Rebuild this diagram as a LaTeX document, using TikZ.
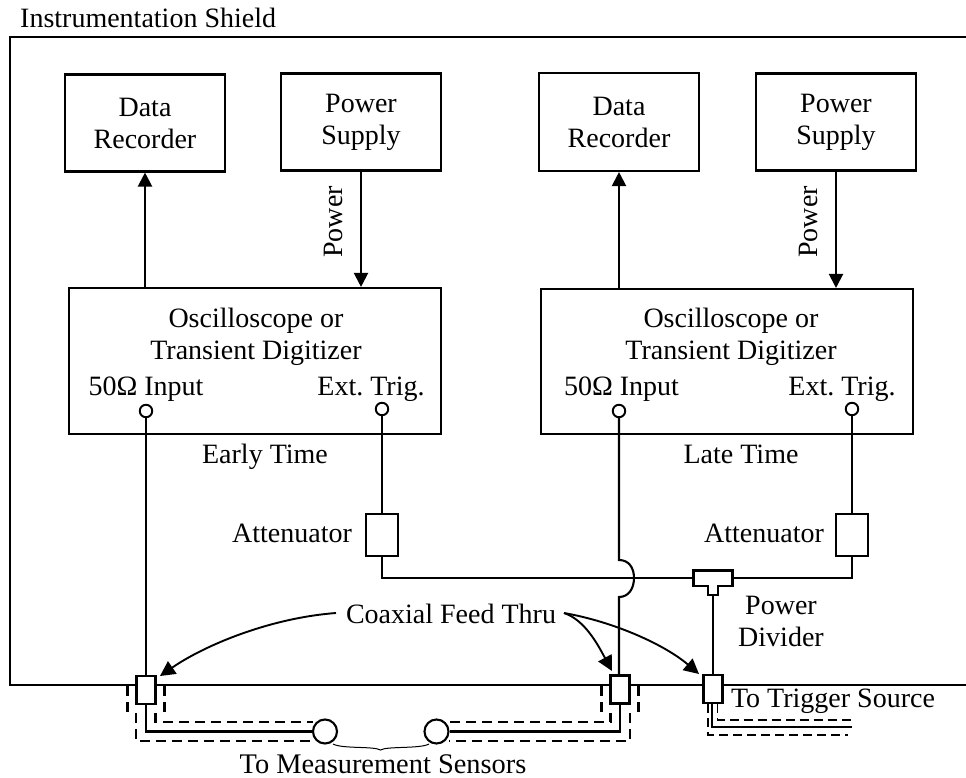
\documentclass[tikz,border=0pt]{standalone}
\usepackage{fontspec}
\setmainfont{Liberation Serif}
\usetikzlibrary{arrows.meta}
\tikzset{
 wire/.style={line width=2.1pt,line cap=butt,line join=miter},
 box/.style={draw,line width=2.1pt,fill=white,inner sep=0pt,align=center},
 port/.style={draw,line width=1.9pt,circle,fill=white,minimum size=12.5pt,inner sep=0pt},
 sensor/.style={draw,line width=2.1pt,circle,fill=white,minimum size=24pt,inner sep=0pt},
 lbl/.style={inner sep=0pt,align=center,font=\fontsize{28}{32}\selectfont\frenchspacing},
 ftbox/.style={box,minimum width=19pt,minimum height=28pt},
 shieldA/.style={line width=2.4pt,dash pattern=on 10pt off 6pt},
 shieldC/.style={line width=1.6pt,dash pattern=on 9pt off 5pt},
 tip/.style={-{Triangle[length=14pt,width=14pt]}},
 bigtip/.style={line width=1.9pt,-{Triangle[length=15pt,width=15pt]}}
}
\begin{document}
\begin{tikzpicture}[x=1pt,y=-1pt]
\useasboundingbox (0,0) rectangle (966,778);
% shield
\coordinate (sTR) at (966,37); \coordinate (sTL) at (10,37);
\coordinate (sBL) at (10,685); \coordinate (sBR) at (966,685);
\draw[wire] (sTR) -- (sTL) -- (sBL) -- (sBR);
\node[lbl,anchor=west] (shieldlbl) at (20,17.5) {Instrumentation Shield};
% boxes
\node[box,minimum width=160pt,minimum height=97pt,lbl] (dataL) at (145,123) {Data\\Recorder};
\node[box,minimum width=160pt,minimum height=97pt,lbl] (powL) at (361,122) {Power\\Supply};
\node[box,minimum width=160pt,minimum height=98pt,lbl] (dataR) at (619,122) {Data\\Recorder};
\node[box,minimum width=160pt,minimum height=97pt,lbl] (powR) at (836,122) {Power\\Supply};
\node[box,minimum width=372pt,minimum height=146pt] (oscL) at (255,361) {};
\node[box,minimum width=372pt,minimum height=145pt] (oscR) at (727,361.5) {};
\node[lbl] (oscLt) at (256,337) {Oscilloscope or\\Transient Digitizer};
\node[lbl] (oscRt) at (731,337) {Oscilloscope or\\Transient Digitizer};
\node[lbl] (inL) at (146,389) {50Ω Input};
\node[lbl] (trL) at (371,389) {Ext. Trig.};
\node[lbl] (inR) at (621.5,389) {50Ω Input};
\node[lbl] (trR) at (842,389) {Ext. Trig.};
\node[port] (pInL) at (146,411) {};
\node[port] (pTrL) at (382,409) {};
\node[port] (pInR) at (619,411) {};
\node[port] (pTrR) at (852,409) {};
\node[lbl] (early) at (265,457) {Early Time};
\node[lbl] (late) at (741,454.5) {Late Time};
% top connectors
\draw[wire,tip] (oscL.north -| dataL.south) -- (dataL.south);
\draw[wire,tip] (powL.south) -- (oscL.north -| powL.south);
\draw[wire,tip] (oscR.north -| dataR.south) -- (dataR.south);
\draw[wire,tip] (powR.south) -- (oscR.north -| powR.south);
\node[lbl,rotate=90] (pwL) at (333,222) {Power};
\node[lbl,rotate=90] (pwR) at (808,222) {Power};
% attenuators
\node[box,minimum width=32pt,minimum height=42pt] (attL) at (382,535) {};
\node[box,minimum width=32pt,minimum height=42pt] (attR) at (852,535) {};
\node[lbl] (attLl) at (292,533) {Attenuator};
\node[lbl] (attRl) at (764,533) {Attenuator};
\draw[wire] (pTrL) -- (attL);
\draw[wire] (pTrR) -- (attR);
% feed-thrus
\node[ftbox] (ftL) at (146,690) {};
\node[ftbox] (ftR) at (620,689.5) {};
\node[ftbox] (ftT) at (713,689) {};
% divider
\coordinate (dW) at (693.5,578); \coordinate (dE) at (732.5,578);
\coordinate (dS) at (713,595);
\draw[wire,fill=white] (693.5,570.5) -- (732.5,570.5) -- (732.5,586) -- (718,586) -- (718,595) -- (708,595) -- (708,586) -- (693.5,586) -- cycle;
\node[lbl] (divl) at (781,621) {Power\\Divider};
\draw[wire] (attL.south) |- (dW);
\draw[wire] (attR.south) |- (dE);
\draw[wire] (dS) -- (ftT.north);
% input wires
\draw[wire] (pInL) -- (ftL.north);
\coordinate (hopA) at (619,560); \coordinate (hopB) at (619,597);
\draw[wire] (pInR) -- (hopA) .. controls (629,560) and (634,568) .. (634,578) .. controls (634,588) and (629,597) .. (hopB) -- (hopB |- ftR.north);
% coax label
\node[lbl] (coax) at (451,614) {Coaxial Feed Thru};
\coordinate (cW) at (336,613); \coordinate (cE) at (564,613);
\coordinate (tL) at (160,676); \coordinate (tR) at (612,671); \coordinate (tT) at (699,674);
\draw[bigtip] (cW) .. controls (270,618) and (205,645) .. (tL);
\draw[bigtip] (cE) .. controls (585,620) and (598,645) .. (tR);
\draw[bigtip] (cE) .. controls (615,622) and (665,645) .. (tT);
% sensors
\node[sensor] (sen1) at (325,731.5) {};
\node[sensor] (sen2) at (436.5,731.5) {};
\draw[wire] (ftL.south) |- (sen1.west);
\draw[wire] (ftR.south) |- (sen2.east);
% left shields
\coordinate (a1) at (127.5,686); \coordinate (a2) at (127.5,714);
\coordinate (a3) at (164.5,686); \coordinate (a4) at (164.5,714);
\draw[shieldA] (a1) -- (a2); \draw[shieldA] (a3) -- (a4);
\coordinate (b1) at (136,713); \coordinate (b2) at (313,741);
\coordinate (b3) at (155.5,713); \coordinate (b4) at (313,722);
\draw[shieldA] (b1) |- (b2);
\draw[shieldA] (b3) |- (b4);
% right shields
\coordinate (c1) at (601.5,686); \coordinate (c2) at (601.5,714);
\coordinate (c3) at (638.5,686); \coordinate (c4) at (638.5,714);
\draw[shieldA] (c1) -- (c2); \draw[shieldA] (c3) -- (c4);
\coordinate (d1) at (630,713); \coordinate (d2) at (449,741);
\coordinate (d3) at (610.5,713); \coordinate (d4) at (449,722);
\draw[shieldA] (d1) |- (d2);
\draw[shieldA] (d3) |- (d4);
% trigger
\coordinate (t1) at (712,704); \coordinate (t1e) at (852,727);
\coordinate (t2) at (708,704); \coordinate (t2e) at (848,735);
\coordinate (t3) at (717.5,704); \coordinate (t3e) at (852,720);
\draw[wire,line width=1.7pt] (t1) |- (t1e);
\draw[shieldC] (t2) |- (t2e);
\draw[shieldC] (t3) |- (t3e);
\node[lbl] (trig) at (833,701.5) {To Trigger Source};
% brace
\coordinate (br) at (380.5,750);
\coordinate (brL) at (333,744); \coordinate (brR) at (429,744);
\draw[line width=1pt] (brL) .. controls (342,749) and (374,746) .. (br) .. controls (387,746) and (420,749) .. (brR);
\node[lbl,font=\fontsize{28.4}{32}\selectfont] (meas) at (383,764) {To Measurement Sensors};
\end{tikzpicture}
\end{document}
